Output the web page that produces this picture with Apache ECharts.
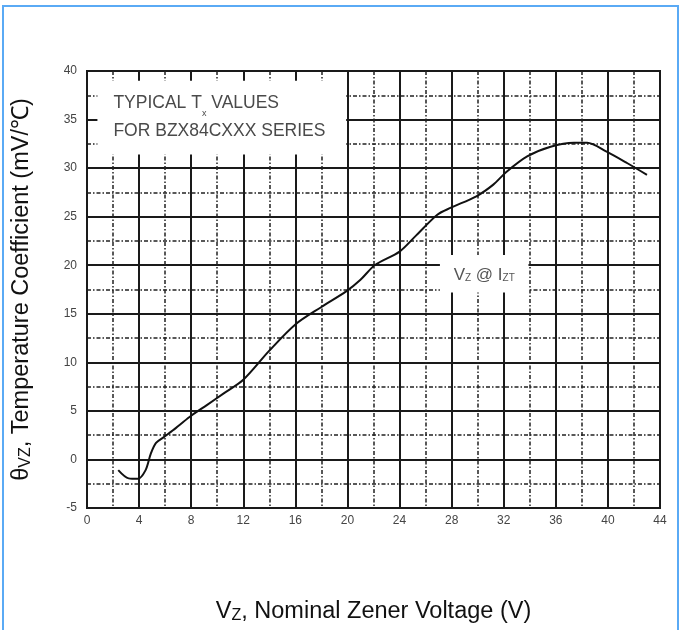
<!DOCTYPE html>
<html><head><meta charset="utf-8">
<script src="https://cdn.jsdelivr.net/npm/echarts@6/dist/echarts.min.js"></script>
<style>html,body{margin:0;padding:0;background:#fff}#c{width:680px;height:630px}</style>
</head><body><div id="c"></div>
<script>
// Nominal Zener voltage (V)
const voltage = [2.4, 3.2, 3.9, 4.5, 4.9, 5.3, 5.9, 6.6, 7.9, 9.2, 10.5, 12.0, 14.0, 16.0, 18.0, 19.9, 21.0, 22.1, 24.0, 25.3, 26.9, 27.9, 29.9, 31.2, 32.2, 33.8, 35.6, 37.4, 38.4, 39.9, 41.5, 43.0];
// Temperature coefficient (mV/°C)
const tempCoeff = [-1.1, -1.95, -2.0, -1.1, 0.6, 1.7, 2.3, 3.0, 4.4, 5.6, 6.8, 8.2, 11.2, 13.9, 15.7, 17.3, 18.5, 20.0, 21.4, 23.1, 25.2, 25.9, 27.1, 28.3, 29.6, 31.2, 32.2, 32.6, 32.6, 31.7, 30.5, 29.3];
// Axis ticks
const xTickLabels = [0, 4, 8, 12, 16, 20, 24, 28, 32, 36, 40, 44];
const yTickLabels = [-5, 0, 5, 10, 15, 20, 25, 30, 35, 40];
// Annotations
const noteLines = ['TYPICAL T', 'x', ' VALUES', 'FOR BZX84CXXX SERIES'];
const noteBox = [[0.8, 39.0], [19.9, 31.4]];
const curveLabelBox = [[27.1, 21.05], [33.9, 17.2]];

const chart = echarts.init(document.getElementById('c'), null, {renderer: 'canvas'});
const grid = '#1a1a1a';
const FF = 'Liberation Sans, Arial';
const nameRich = {
  t: {fontFamily: FF, fontSize: 23.5, color: '#111', lineHeight: 28, verticalAlign: 'bottom'},
  s: {fontFamily: FF, fontSize: 16, color: '#111', lineHeight: 24, verticalAlign: 'bottom'}
};
const option = {
  animation: false,
  backgroundColor: '#fff',
  grid: {left: 87, right: 20, top: 71, bottom: 122, show: true, borderColor: grid, borderWidth: 2, backgroundColor: 'transparent'},
  graphic: [{
    type: 'rect', silent: true, z: 100,
    shape: {x: 3, y: 6, width: 675, height: 640},
    style: {fill: 'none', stroke: '#5aaaf5', lineWidth: 2}
  }],
  xAxis: {
    type: 'value', min: xTickLabels[0], max: xTickLabels[xTickLabels.length - 1], interval: 4,
    name: '{t|V}{s|Z}{t|, Nominal Zener Voltage (V)}', nameLocation: 'middle', nameGap: 88,
    nameTextStyle: {rich: nameRich},
    axisLine: {show: true, lineStyle: {color: grid, width: 2}},
    axisTick: {show: false},
    axisLabel: {margin: 7, fontSize: 12, color: '#444', fontFamily: FF},
    splitLine: {show: true, lineStyle: {color: grid, width: 2}},
    minorTick: {show: false, splitNumber: 2},
    minorSplitLine: {show: true, lineStyle: {color: '#222', width: 1.5, type: [4, 2, 1.5, 2]}}
  },
  yAxis: {
    type: 'value', min: yTickLabels[0], max: yTickLabels[yTickLabels.length - 1], interval: 5,
    name: '{t|θ}{s|VZ}{t|, Temperature Coefficient (mV/℃)}', nameLocation: 'middle', nameGap: 53,
    nameTextStyle: {rich: nameRich},
    axisLine: {show: true, lineStyle: {color: grid, width: 2}},
    axisTick: {show: false},
    axisLabel: {margin: 10, fontSize: 12, color: '#444', fontFamily: FF},
    splitLine: {show: true, lineStyle: {color: grid, width: 2}},
    minorTick: {show: false, splitNumber: 2},
    minorSplitLine: {show: true, lineStyle: {color: '#222', width: 1.5, type: [4, 2, 1.5, 2]}}
  },
  series: [{
    type: 'line',
    data: voltage.map((v, i) => [v, tempCoeff[i]]),
    smooth: 0.3,
    showSymbol: false,
    lineStyle: {color: '#111', width: 2},
    z: 5,
    markArea: {
      silent: true,
      itemStyle: {color: '#fff', opacity: 1},
      data: [
        [{xAxis: noteBox[0][0], yAxis: noteBox[0][1],
          label: {show: true, position: 'insideLeft', distance: 16,
            formatter: '{a|' + noteLines[0] + '}{b|' + noteLines[1] + '}{a|' + noteLines[2] + '}\n{a|' + noteLines[3] + '}',
            rich: {
              a: {fontFamily: FF, fontSize: 17.5, color: '#4a4a4a', lineHeight: 28, verticalAlign: 'middle'},
              b: {fontFamily: FF, fontSize: 9, color: '#4a4a4a', lineHeight: 12, verticalAlign: 'bottom'}
            }}},
         {xAxis: noteBox[1][0], yAxis: noteBox[1][1]}],
        [{xAxis: curveLabelBox[0][0], yAxis: curveLabelBox[0][1],
          label: {show: true, position: 'inside',
            formatter: '{a|V}{b|Z}{a| @ I}{b|ZT}',
            rich: {
              a: {fontFamily: FF, fontSize: 17, color: '#555', lineHeight: 20, verticalAlign: 'bottom'},
              b: {fontFamily: FF, fontSize: 10, color: '#555', lineHeight: 15, verticalAlign: 'bottom'}
            }}},
         {xAxis: curveLabelBox[1][0], yAxis: curveLabelBox[1][1]}]
      ]
    }
  }]
};
chart.setOption(option);
</script>
</body></html>
